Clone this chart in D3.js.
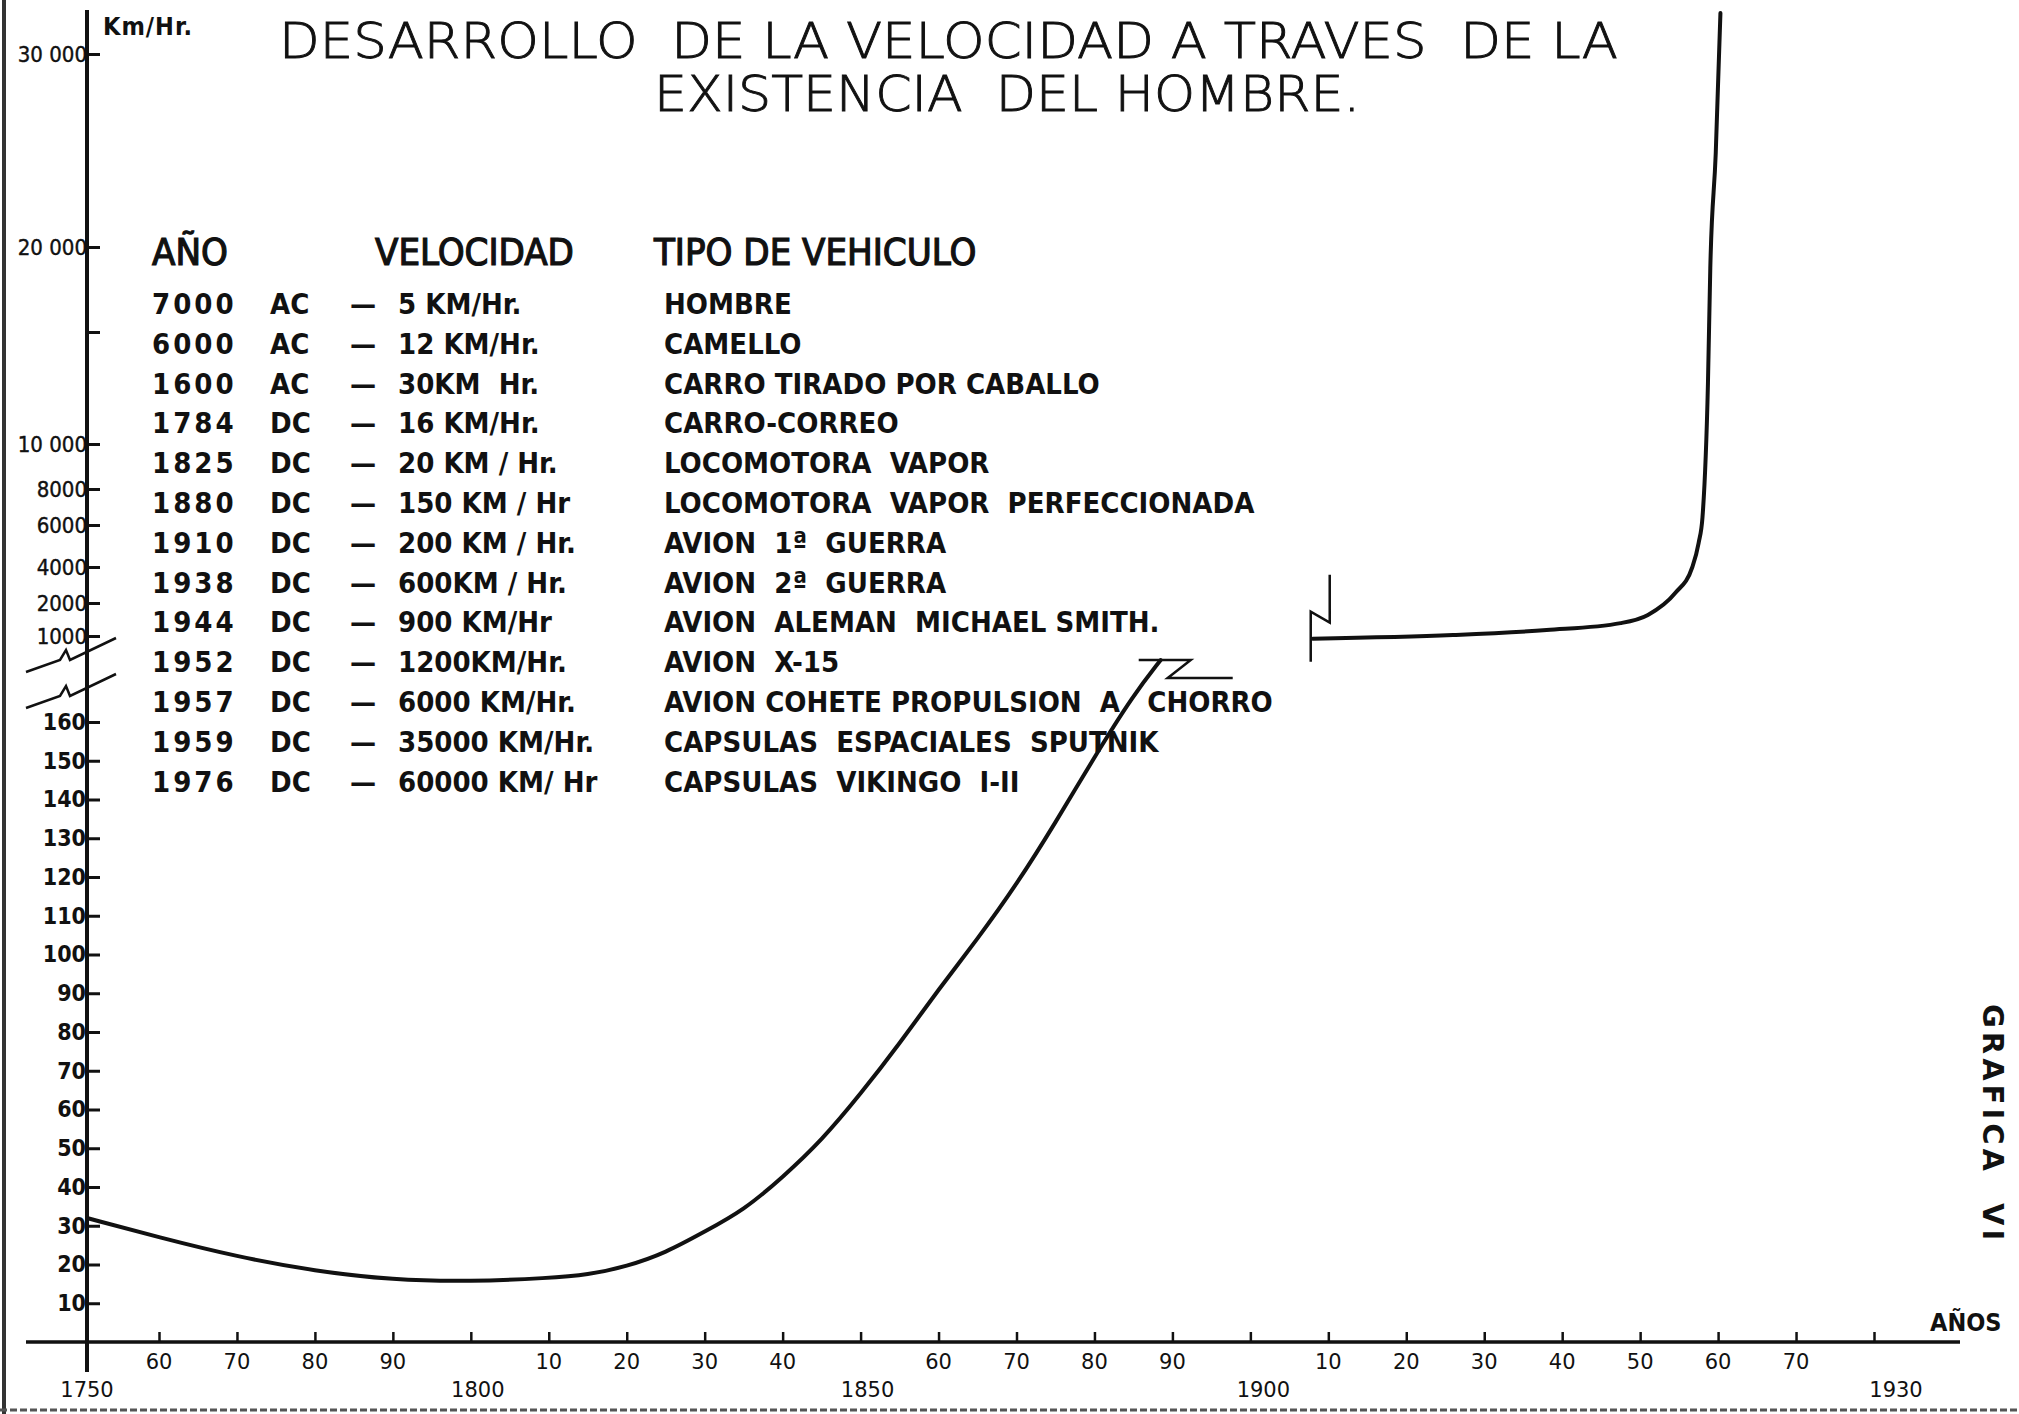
<!DOCTYPE html>
<html><head><meta charset="utf-8">
<script src="https://cdn.jsdelivr.net/npm/d3@7"></script>
<style>
html,body{margin:0;padding:0;background:#fff;}
svg text{white-space:pre;}
</style></head><body>
<script>
// ---------------- DATA ----------------
const titleLines = ["DESARROLLO  DE LA VELOCIDAD A TRAVES  DE LA", "EXISTENCIA  DEL HOMBRE."];
const tableHeaders = ["AÑO", "VELOCIDAD", "TIPO DE VEHICULO"];
const tableYears = ["7000","6000","1600","1784","1825","1880","1910","1938","1944","1952","1957","1959","1976"];
const tableEras = ["AC","AC","AC","DC","DC","DC","DC","DC","DC","DC","DC","DC","DC"];
const tableSpeeds = ["5 KM/Hr.","12 KM/Hr.","30KM  Hr.","16 KM/Hr.","20 KM / Hr.","150 KM / Hr","200 KM / Hr.","600KM / Hr.","900 KM/Hr","1200KM/Hr.","6000 KM/Hr.","35000 KM/Hr.","60000 KM/ Hr"];
const tableVehicles = ["HOMBRE","CAMELLO","CARRO TIRADO POR CABALLO","CARRO-CORREO","LOCOMOTORA  VAPOR","LOCOMOTORA  VAPOR  PERFECCIONADA","AVION  1ª  GUERRA","AVION  2ª  GUERRA","AVION  ALEMAN  MICHAEL SMITH.","AVION  X-15","AVION COHETE PROPULSION  A   CHORRO","CAPSULAS  ESPACIALES  SPUTNIK","CAPSULAS  VIKINGO  I-II"];

// x axis (years)
const xTickYears = [1750,1760,1770,1780,1790,1800,1810,1820,1830,1840,1850,1860,1870,1880,1890,1900,1910,1920,1930,1940,1950,1960,1970,1980];
const xTickLabels = ["","60","70","80","90","","10","20","30","40","","60","70","80","90","","10","20","30","40","50","60","70",""];
const xMajorYears = [1750,1800,1850,1900,1980];
const xMajorLabels = ["1750","1800","1850","1900","1930"];

// y axis, lower part (km/h)
const yLowTicks = [10,20,30,40,50,60,70,80,90,100,110,120,130,140,150,160];
const yLowLabels = ["10","20","30","40","50","60","70","80","90","100","110","120","130","140","150","160"];
// y axis, upper part (km/h) — hand-drawn, irregular spacing
const yHighTicks = [1000,2000,4000,6000,8000,10000,15000,20000,30000];
const yHighLabels = ["1000","2000","4000","6000","8000","10 000","","20 000","30 000"];

// curve, lower part
const lowYears = [1750,1760,1770,1780,1790,1800,1810,1815,1820,1825,1830,1835,1840,1845,1850,1855,1860,1865,1870,1875,1880,1885,1888.5];
const lowSpeeds = [32,27,22,18.3,16,15.6,16.5,17.3,19.5,23,28.5,34,42.5,52,64,77,91,104,118,134,151,167,176];
// curve, upper part
const highYears = [1908,1926,1938,1947.5,1951,1954.5,1956.7,1957.5,1958,1958.7,1959,1959.7,1960.3];
const highSpeeds = [920,1030,1180,1390,1640,2555,4000,5140,6440,12720,18760,24870,32120];

// ---------------- DRAW ----------------
const W = 2019, H = 1414;
const svg = d3.select("body").append("svg").attr("width", W).attr("height", H)
  .style("background", "#fff").style("display","block");
const ink = "#111";
const condensed = "'DejaVu Sans Condensed','DejaVu Sans',sans-serif";

// hand-drawn axes: first decade slightly shorter, upper speed scale irregular
const x = d3.scaleLinear().domain([1750, 1760, 1980]).range([87, 159, 1874]);
const yLow = d3.scaleLinear().domain([0, 160]).range([1342, 722]);
const yHigh = d3.scaleLinear().domain(yHighTicks).range([636, 603, 567, 525, 489, 444, 332, 247, 54]);

// page edges of the scan
svg.append("line").attr("x1",4).attr("x2",4).attr("y1",0).attr("y2",H).attr("stroke","#333").attr("stroke-width",4);
svg.append("line").attr("x1",0).attr("x2",W).attr("y1",1410).attr("y2",1410).attr("stroke","#555").attr("stroke-width",3).attr("stroke-dasharray","7 3");

// Title
const titleG = svg.append("g").attr("font-family","'DejaVu Sans', sans-serif").attr("font-weight",200)
  .attr("fill",ink).attr("stroke",ink).attr("stroke-width",0.9);
titleG.append("text").attr("x",279).attr("y",58).attr("font-size",49).attr("textLength",1339).attr("lengthAdjust","spacingAndGlyphs").text(titleLines[0]);
titleG.append("text").attr("x",654).attr("y",111).attr("font-size",49).attr("textLength",706).attr("lengthAdjust","spacingAndGlyphs").text(titleLines[1]);

// Axes lines
svg.append("line").attr("x1",x(1750)).attr("x2",x(1750)).attr("y1",10).attr("y2",1372).attr("stroke",ink).attr("stroke-width",4);
svg.append("line").attr("x1",26).attr("x2",1960).attr("y1",yLow(0)).attr("y2",yLow(0)).attr("stroke",ink).attr("stroke-width",3.5);

// Y ticks lower
const yLowAxis = d3.axisLeft(yLow).tickValues(yLowTicks).tickSizeInner(-13).tickSizeOuter(0).tickPadding(1)
  .tickFormat((d,i)=>yLowLabels[i]);
const gyl = svg.append("g").attr("transform",`translate(${x(1750)},0)`).call(yLowAxis);
gyl.select(".domain").remove();
gyl.selectAll(".tick line").attr("stroke",ink).attr("stroke-width",3);
gyl.selectAll(".tick text").attr("fill",ink).attr("font-family",condensed)
  .style("font-stretch","condensed").attr("font-weight","bold").attr("font-size",23);

// Y ticks upper
const yHighAxis = d3.axisLeft(yHigh).tickValues(yHighTicks).tickSizeInner(-13).tickSizeOuter(0).tickPadding(0)
  .tickFormat((d,i)=>yHighLabels[i]);
const gyh = svg.append("g").attr("transform",`translate(${x(1750)},0)`).call(yHighAxis);
gyh.select(".domain").remove();
gyh.selectAll(".tick line").attr("stroke",ink).attr("stroke-width",3);
gyh.selectAll(".tick text").attr("fill",ink).attr("font-family",condensed)
  .style("font-stretch","condensed").attr("font-size",22).attr("stroke",ink).attr("stroke-width",0.4);

// Km/Hr label
svg.append("text").attr("x",103).attr("y",35).attr("font-family",condensed)
  .style("font-stretch","condensed").attr("font-weight","bold").attr("font-size",25).attr("letter-spacing",1)
  .attr("fill",ink).text("Km/Hr.");

// Y-axis break marks
[0,36].forEach(dy=>{
  const p = d3.path();
  p.moveTo(26, 672+dy); p.lineTo(60, 660+dy); p.lineTo(66, 650+dy); p.lineTo(70, 660+dy); p.lineTo(116, 638+dy);
  svg.append("path").attr("d",p.toString()).attr("fill","none").attr("stroke",ink).attr("stroke-width",2.5);
});

// X ticks
const xAxis = d3.axisBottom(x).tickValues(xTickYears.slice(1)).tickSizeInner(-10).tickSizeOuter(0).tickFormat("");
const gx = svg.append("g").attr("transform",`translate(0,${yLow(0)})`).call(xAxis);
gx.select(".domain").remove();
gx.selectAll(".tick line").attr("stroke",ink).attr("stroke-width",2.5);

const majorDx = [0, 7, 7, 13, 22];   // hand-lettered offsets of the century labels
const xl = svg.append("g").attr("font-family","'DejaVu Sans', sans-serif").attr("font-size",21).attr("fill",ink).attr("text-anchor","middle");
xl.selectAll("text.minor").data(xTickYears.map((d,i)=>[d,xTickLabels[i]]).filter(d=>d[1]!==""))
  .join("text").attr("class","minor").attr("x",d=>x(d[0])).attr("y",1369).text(d=>d[1]);
xl.selectAll("text.major").data(xMajorYears.map((d,i)=>[d,xMajorLabels[i]]))
  .join("text").attr("class","major").attr("x",(d)=>x(d[0])).attr("dx",(d,i)=>majorDx[i]).attr("y",1397).text(d=>d[1]);

svg.append("text").attr("x",1930).attr("y",1331).attr("font-family",condensed)
  .style("font-stretch","condensed").attr("font-weight","bold").attr("font-size",25).attr("fill",ink).text("AÑOS");

// Curves
const lowLine = d3.line().x(d=>x(d[0])).y(d=>yLow(d[1])).curve(d3.curveBasis);
svg.append("path").datum(lowYears.map((d,i)=>[d,lowSpeeds[i]])).attr("d",lowLine)
  .attr("fill","none").attr("stroke",ink).attr("stroke-width",4).attr("stroke-linecap","round");
const highLine = d3.line().x(d=>x(d[0])).y(d=>yHigh(d[1])).curve(d3.curveMonotoneX);
svg.append("path").datum(highYears.map((d,i)=>[d,highSpeeds[i]])).attr("d",highLine)
  .attr("fill","none").attr("stroke",ink).attr("stroke-width",4).attr("stroke-linecap","round");

// Break symbol at end of the lower curve
{
  const ex = x(lowYears[lowYears.length-1]), ey = yLow(lowSpeeds[lowSpeeds.length-1]);
  const p = d3.path();
  p.moveTo(ex-22, ey); p.lineTo(ex+30, ey); p.lineTo(ex+7, ey+18); p.lineTo(ex+72, ey+18);
  svg.append("path").attr("d",p.toString()).attr("fill","none").attr("stroke",ink).attr("stroke-width",2.5);
}
// Break symbol at start of the upper curve
{
  const sx = x(highYears[0]), sy = yHigh(highSpeeds[0]);
  const p = d3.path();
  p.moveTo(sx+17, sy-64); p.lineTo(sx+17, sy-16); p.lineTo(sx-2, sy-27); p.lineTo(sx-2, sy+23);
  svg.append("path").attr("d",p.toString()).attr("fill","none").attr("stroke",ink).attr("stroke-width",2.5);
}

// Table
const tb = svg.append("g").attr("fill",ink).attr("font-family",condensed).style("font-stretch","condensed");
const hx = [152, 375, 654];
tb.selectAll("text.hdr").data(tableHeaders).join("text").attr("class","hdr")
  .attr("x",(d,i)=>hx[i]).attr("y",265).attr("font-size",38).attr("stroke",ink).attr("stroke-width",1.2).text(d=>d);
const rowY = i => 314 + i*39.8;
const rows = tb.selectAll("g.row").data(tableYears.map((d,i)=>i)).join("g").attr("class","row")
  .attr("font-size",29).attr("font-weight","bold");
rows.append("text").attr("x",152).attr("y",rowY).attr("letter-spacing",3).text(i=>tableYears[i]);
rows.append("text").attr("x",270).attr("y",rowY).text(i=>tableEras[i]);
rows.append("text").attr("x",350).attr("y",rowY).text("—");
rows.append("text").attr("x",398).attr("y",rowY).text(i=>tableSpeeds[i]);
rows.append("text").attr("x",664).attr("y",rowY).text(i=>tableVehicles[i]);

// GRAFICA VI
svg.append("text").attr("transform","translate(1983,1004) rotate(90)")
  .attr("font-family","'DejaVu Sans', sans-serif").attr("font-weight","bold").attr("font-size",29)
  .attr("letter-spacing",4).attr("fill",ink).text("GRAFICA  VI");
</script>
</body></html>
